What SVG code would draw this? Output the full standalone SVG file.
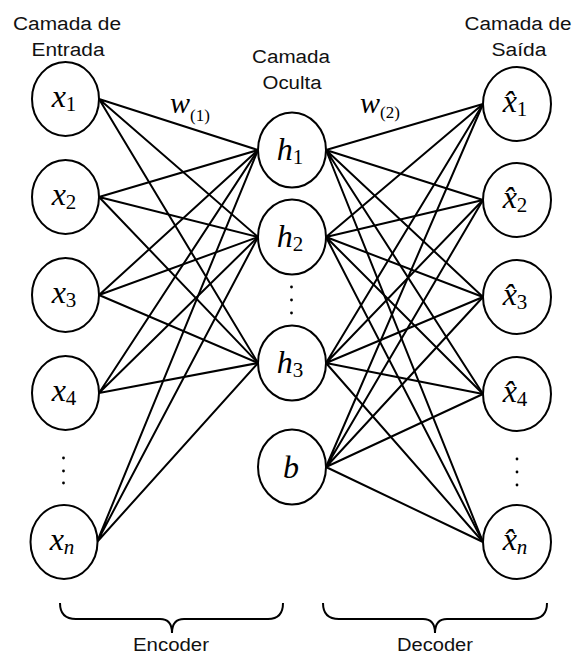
<svg xmlns="http://www.w3.org/2000/svg" width="574" height="655" viewBox="0 0 574 655">
  <style>
    .node { fill: #ffffff; stroke: #000000; stroke-width: 2; }
    .edge { stroke: #000000; stroke-width: 2; fill: none; }
    .brace { stroke: #000000; stroke-width: 2; fill: none; }
    .title { font-family: "Liberation Sans", Arial, sans-serif; font-size: 18px; fill: #111111; text-anchor: middle; }
    .math { font-family: "Liberation Serif", "Times New Roman", serif; font-style: italic; font-size: 32px; fill: #000000; text-anchor: middle; }
    .sub { font-style: normal; font-size: 21px; }
    .subi { font-style: italic; font-size: 21px; }
    .wlab { font-family: "Liberation Serif", "Times New Roman", serif; font-style: italic; font-size: 30px; fill: #000000; }
    .wsub { font-style: normal; font-size: 17px; }
    .dot { fill: #000000; }
  </style>

  <!-- layer headings -->
  <g id="heading-input">
    <text class="title" x="67" y="30" textLength="108" lengthAdjust="spacingAndGlyphs">Camada de</text>
    <text class="title" x="68" y="56" textLength="73" lengthAdjust="spacingAndGlyphs">Entrada</text>
  </g>
  <g id="heading-hidden">
    <text class="title" x="291" y="63" textLength="78" lengthAdjust="spacingAndGlyphs">Camada</text>
    <text class="title" x="292" y="89" textLength="59" lengthAdjust="spacingAndGlyphs">Oculta</text>
  </g>
  <g id="heading-output">
    <text class="title" x="518" y="30" textLength="107" lengthAdjust="spacingAndGlyphs">Camada de</text>
    <text class="title" x="519" y="56" textLength="55" lengthAdjust="spacingAndGlyphs">Saída</text>
  </g>

  <!-- weight connections -->
  <g id="connectors">
    <!-- encoder: every input to h1, h2, h3 -->
    <path class="edge" d="M99,99 L258,150 M99,99 L258,237 M99,99 L258,363"/>
    <path class="edge" d="M99,197 L258,150 M99,197 L258,237 M99,197 L258,363"/>
    <path class="edge" d="M99,295 L258,150 M99,295 L258,237 M99,295 L258,363"/>
    <path class="edge" d="M99,393 L258,150 M99,393 L258,237 M99,393 L258,363"/>
    <path class="edge" d="M97,542 L258,150 M97,542 L258,237 M97,542 L258,363"/>
    <!-- decoder: h1, h2, h3 and bias to every output -->
    <path class="edge" d="M326,150 L483,104 M326,150 L483,200 M326,150 L483,297 M326,150 L483,394 M326,150 L483,542"/>
    <path class="edge" d="M326,237 L483,104 M326,237 L483,200 M326,237 L483,297 M326,237 L483,394 M326,237 L483,542"/>
    <path class="edge" d="M326,363 L483,104 M326,363 L483,200 M326,363 L483,297 M326,363 L483,394 M326,363 L483,542"/>
    <path class="edge" d="M326,467 L483,104 M326,467 L483,200 M326,467 L483,297 M326,467 L483,394 M326,467 L483,542"/>
  </g>

  <!-- weight labels -->
  <text class="wlab" x="170" y="113">w<tspan class="wsub" dy="8">(1)</tspan></text>
  <text class="wlab" x="360" y="113">w<tspan class="wsub" dy="5">(2)</tspan></text>

  <!-- input layer -->
  <g id="x1"><ellipse class="node" cx="65.5" cy="99" rx="33.5" ry="37"/><text class="math" x="64" y="107">x<tspan class="sub" dy="4">1</tspan></text></g>
  <g id="x2"><ellipse class="node" cx="65.5" cy="197" rx="33.5" ry="37"/><text class="math" x="64" y="205">x<tspan class="sub" dy="4">2</tspan></text></g>
  <g id="x3"><ellipse class="node" cx="65.5" cy="295" rx="33.5" ry="37"/><text class="math" x="64" y="303">x<tspan class="sub" dy="4">3</tspan></text></g>
  <g id="x4"><ellipse class="node" cx="65.5" cy="393" rx="33.5" ry="37"/><text class="math" x="64" y="401">x<tspan class="sub" dy="4">4</tspan></text></g>
  <g id="input-ellipsis">
    <circle class="dot" cx="63.5" cy="458" r="1.4"/>
    <circle class="dot" cx="63.5" cy="471" r="1.4"/>
    <circle class="dot" cx="63.5" cy="483" r="1.4"/>
  </g>
  <g id="xn"><ellipse class="node" cx="64" cy="542" rx="33.5" ry="37"/><text class="math" x="62" y="550">x<tspan class="subi" dy="4">n</tspan></text></g>

  <!-- hidden layer -->
  <g id="h1"><ellipse class="node" cx="292" cy="150" rx="34" ry="37.5"/><text class="math" x="290" y="160">h<tspan class="sub" dy="4">1</tspan></text></g>
  <g id="h2"><ellipse class="node" cx="292" cy="237" rx="34" ry="37.5"/><text class="math" x="290" y="247">h<tspan class="sub" dy="4">2</tspan></text></g>
  <g id="hidden-ellipsis">
    <circle class="dot" cx="291.5" cy="287" r="1.4"/>
    <circle class="dot" cx="291.5" cy="300" r="1.4"/>
    <circle class="dot" cx="291.5" cy="313" r="1.4"/>
  </g>
  <g id="h3"><ellipse class="node" cx="292" cy="363" rx="34" ry="37.5"/><text class="math" x="290" y="373">h<tspan class="sub" dy="4">3</tspan></text></g>
  <g id="bias"><ellipse class="node" cx="292" cy="467" rx="34" ry="37.5"/><text class="math" x="291" y="478">b</text></g>

  <!-- output layer (x with combining circumflex) -->
  <g id="xhat1"><ellipse class="node" cx="517" cy="104" rx="34" ry="37"/><text class="math" x="515" y="112">x&#x302;<tspan class="sub" dy="4">1</tspan></text></g>
  <g id="xhat2"><ellipse class="node" cx="517" cy="200" rx="34" ry="37"/><text class="math" x="515" y="208">x&#x302;<tspan class="sub" dy="4">2</tspan></text></g>
  <g id="xhat3"><ellipse class="node" cx="517" cy="297" rx="34" ry="37"/><text class="math" x="515" y="305">x&#x302;<tspan class="sub" dy="4">3</tspan></text></g>
  <g id="xhat4"><ellipse class="node" cx="517" cy="394" rx="34" ry="37"/><text class="math" x="515" y="402">x&#x302;<tspan class="sub" dy="4">4</tspan></text></g>
  <g id="output-ellipsis">
    <circle class="dot" cx="517" cy="459" r="1.4"/>
    <circle class="dot" cx="517" cy="472" r="1.4"/>
    <circle class="dot" cx="517" cy="485" r="1.4"/>
  </g>
  <g id="xhatn"><ellipse class="node" cx="517" cy="542" rx="34" ry="37"/><text class="math" x="515" y="550">x&#x302;<tspan class="subi" dy="4">n</tspan></text></g>

  <!-- encoder / decoder braces -->
  <g id="encoder">
    <path class="brace" d="M60,603 Q60,619 76,619 L160,619 Q172,619 172,633 Q172,619 184,619 L268,619 Q283,619 283,603"/>
    <text class="title" x="171" y="651" textLength="76" lengthAdjust="spacingAndGlyphs">Encoder</text>
  </g>
  <g id="decoder">
    <path class="brace" d="M323,603 Q323,619 339,619 L423,619 Q435,619 435,633 Q435,619 447,619 L531,619 Q547,619 547,603"/>
    <text class="title" x="435" y="651" textLength="76" lengthAdjust="spacingAndGlyphs">Decoder</text>
  </g>
</svg>
